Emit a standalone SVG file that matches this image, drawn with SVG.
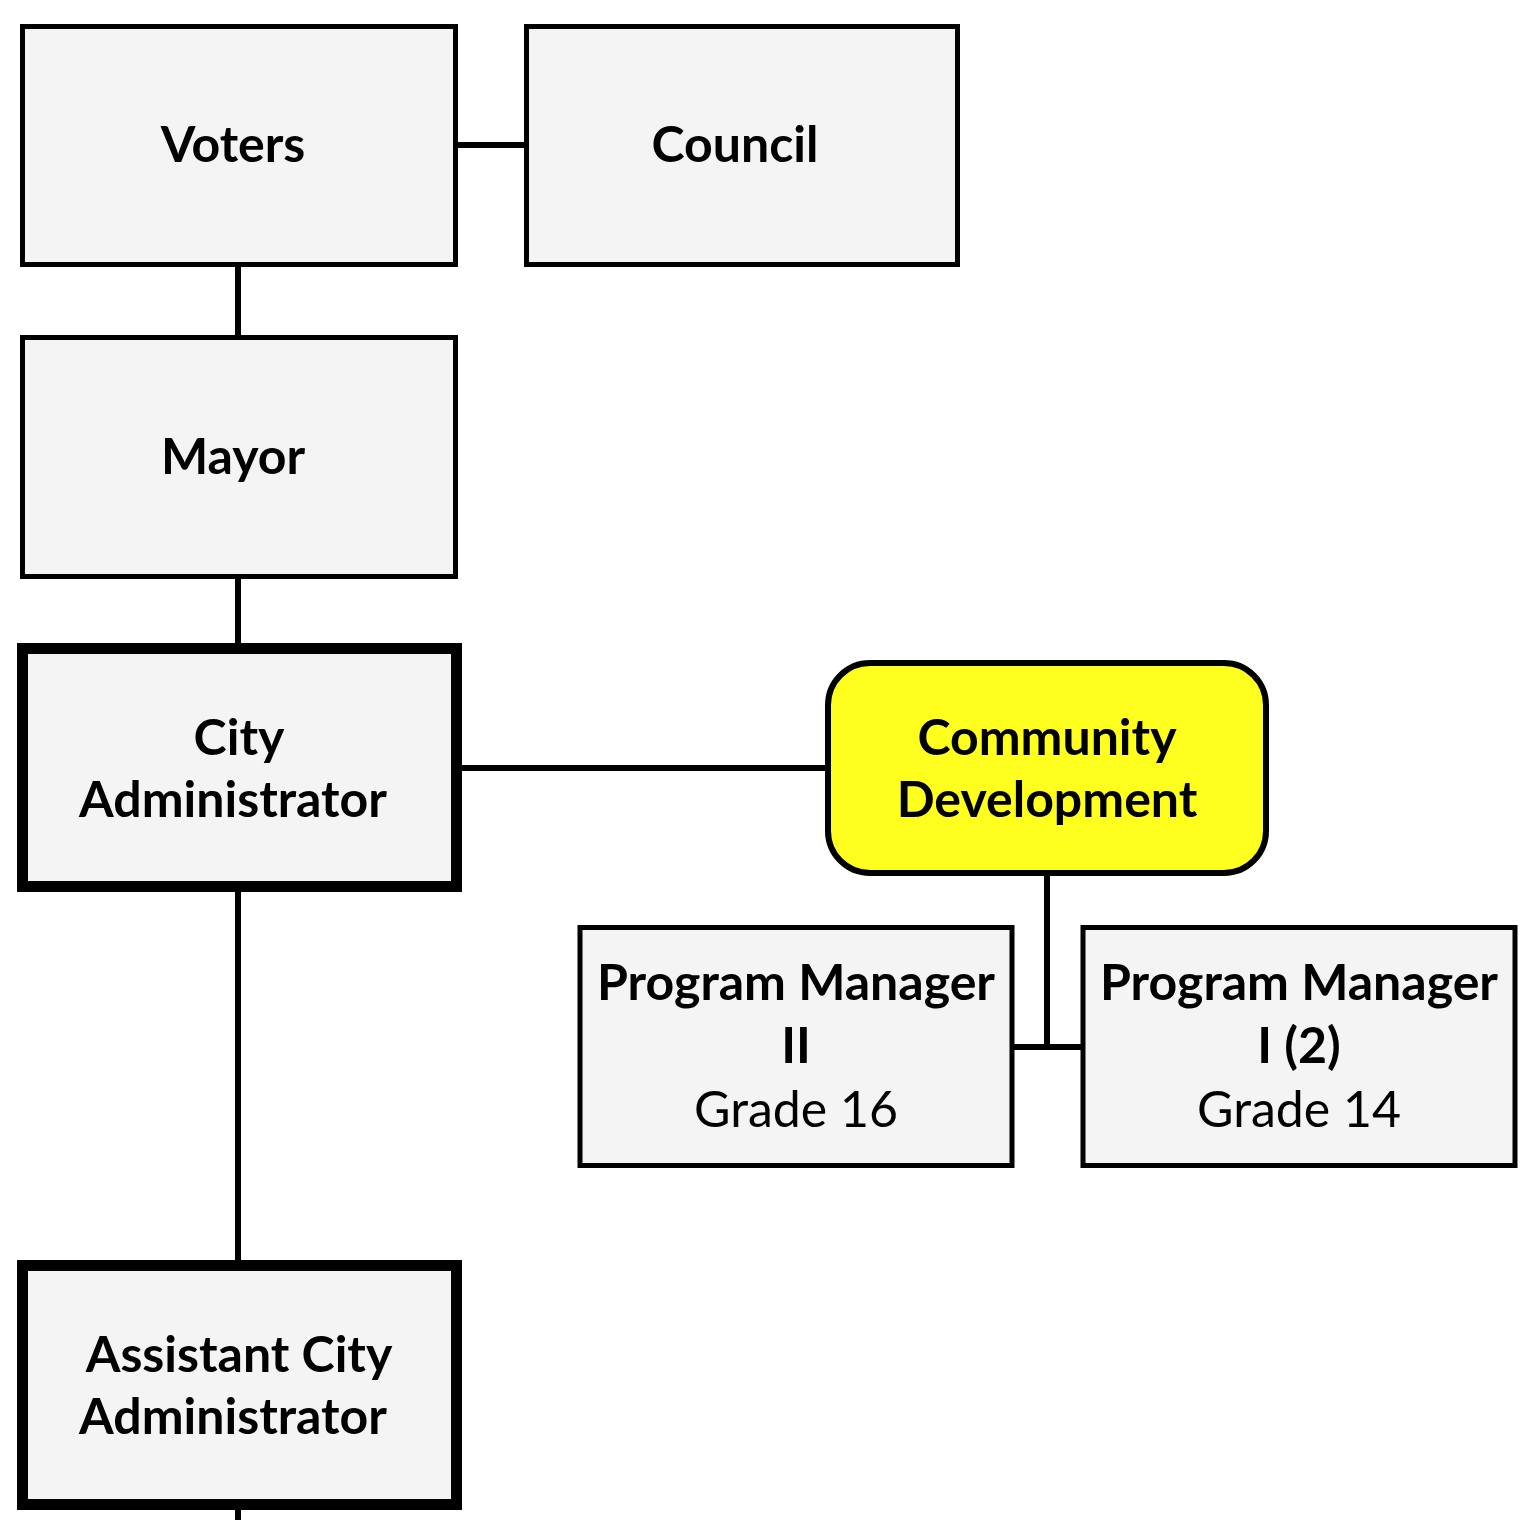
<svg xmlns="http://www.w3.org/2000/svg" width="1528" height="1520" viewBox="0 0 1528 1520">
<style>
.box{fill:#F4F4F4;stroke:#000;stroke-width:5}
.thick{fill:#F4F4F4;stroke:#000;stroke-width:11}
.yel{fill:#FFFF1F;stroke:#000;stroke-width:6}
.t{font-family:Lato,"Open Sans",sans-serif;font-weight:bold;font-size:50px;text-anchor:middle;fill:#000}
.n{font-family:Lato,"Open Sans",sans-serif;font-weight:normal;font-size:50px;text-anchor:middle;fill:#000}
.c{stroke:#000;stroke-width:6;fill:none}
</style>
<rect width="1528" height="1520" fill="#fff"/>
<g id="connectors">
<line class="c" x1="455" y1="145" x2="526" y2="145"/>
<line class="c" x1="238" y1="264" x2="238" y2="337"/>
<line class="c" x1="238" y1="576" x2="238" y2="645"/>
<line class="c" x1="461" y1="768" x2="827" y2="768"/>
<line class="c" x1="1047" y1="874" x2="1047" y2="1047"/>
<line class="c" x1="1012" y1="1047" x2="1082" y2="1047"/>
<line class="c" x1="238" y1="891" x2="238" y2="1262"/>
<line class="c" x1="238" y1="1508" x2="238" y2="1520"/>
</g>
<g id="voters">
<rect class="box" x="22.5" y="26.5" width="433" height="238"/>
<text class="t" x="233" y="162">Voters</text>
</g>
<g id="council">
<rect class="box" x="526.5" y="26.5" width="431" height="238"/>
<text class="t" x="735" y="162">Council</text>
</g>
<g id="mayor">
<rect class="box" x="22.5" y="337.5" width="433" height="239"/>
<text class="t" x="233" y="474">Mayor</text>
</g>
<g id="city-administrator">
<rect class="thick" x="22.5" y="648.5" width="434" height="238"/>
<text class="t" x="239" y="755">City</text>
<text class="t" x="233" y="817">Administrator</text>
</g>
<g id="community-development">
<rect class="yel" x="828" y="663" width="438" height="210" rx="42" ry="42"/>
<text class="t" x="1047" y="755">Community</text>
<text class="t" x="1047" y="817">Development</text>
</g>
<g id="program-manager-ii">
<rect class="box" x="580" y="927.5" width="432" height="238"/>
<text class="t" x="796" y="1000">Program Manager</text>
<text class="t" x="796" y="1063">II</text>
<text class="n" x="796" y="1127">Grade 16</text>
</g>
<g id="program-manager-i">
<rect class="box" x="1083" y="927.5" width="432" height="238"/>
<text class="t" x="1299" y="1000">Program Manager</text>
<text class="t" x="1299" y="1063">I (2)</text>
<text class="n" x="1299" y="1127">Grade 14</text>
</g>
<g id="assistant-city-administrator">
<rect class="thick" x="22.5" y="1265.5" width="434" height="239"/>
<text class="t" x="239" y="1372">Assistant City</text>
<text class="t" x="233" y="1434">Administrator</text>
</g>
</svg>
